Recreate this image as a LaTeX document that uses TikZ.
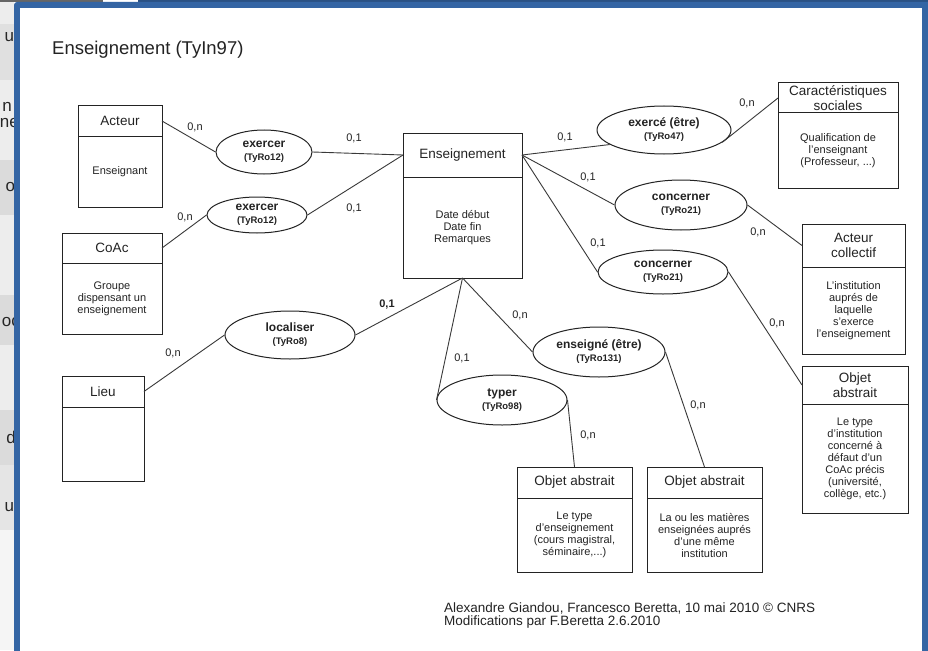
\documentclass[tikz,border=0pt]{standalone}
\usepackage{fontspec}
\setmainfont{Liberation Sans}
\usepackage{tikz}
\usetikzlibrary{shapes.geometric,positioning}
\definecolor{cadre}{RGB}{52,101,164}
\definecolor{encre}{RGB}{35,35,35}
\tikzstyle{box}=[rectangle, draw=encre, line width=1pt, inner sep=1pt, outer sep=0pt, align=center, text=encre, font=\fontsize{13.5}{15}\selectfont]
\tikzstyle{corps}=[box, font=\fontsize{11}{12}\selectfont]
\tikzstyle{rel}=[ellipse, draw=encre, line width=1pt, inner sep=0pt, align=center, text=encre, font=\bfseries\fontsize{12}{13}\selectfont]
\tikzstyle{card}=[inner sep=0pt, text=encre, font=\fontsize{11}{12}\selectfont]
\tikzstyle{lien}=[draw=encre!90, line width=0.9pt]
\tikzstyle{bande}=[inner sep=0pt, anchor=east, text=black!85, font=\fontsize{17}{17}\selectfont]
\newcommand{\code}[1]{{\fontsize{9.5}{10}\selectfont #1}}
% nom, x centre, haut, largeur, hauteur titre, hauteur corps, titre, corps
\newcommand{\entite}[8]
{
  \node[box, minimum width=#4pt, minimum height=#5pt, anchor=north](#1) at (#2,#3){#7};
  \node[corps, minimum width=#4pt, minimum height=#6pt, below=0pt of #1](#1-c){#8};
}

\begin{document}
\begin{tikzpicture}[x=1pt,y=-1pt]
	\useasboundingbox (0,0) rectangle (928,650);

	% fenetre
	\fill[black!60] (0,0) rectangle (103,2);
	\fill[white] (103,0) rectangle (138,2);
	\fill[cadre!80!black] (138,0) rectangle (928,2);
	\begin{scope}
		\clip (0,2) rectangle (14,650);
		\fill[black!7] (0,2) rectangle (14,650);
		\fill[black!12] (0,24) rectangle (14,80);
		\fill[black!14] (0,160) rectangle (14,215);
		\fill[black!14] (0,295) rectangle (14,345);
		\fill[black!14] (0,410) rectangle (14,465);
		\fill[black!10] (0,465) rectangle (14,530);
		\fill[black!4] (0,530) rectangle (14,650);
		\node[bande](g1) at (18,35){ul};
		\node[bande](g2) at (12,107){n};
		\node[bande](g3) at (19,123){ne};
		\node[bande](g4) at (19,185){oi};
		\node[bande](g5) at (20,322){oc};
		\node[bande](g6) at (16,437){d};
		\node[bande](g7) at (18,505){ul};
	\end{scope}
	\fill[cadre, rounded corners=3pt] (14,2) rectangle (935,670);
	\fill[white] (20,8) rectangle (922,670);

	\node[anchor=west, inner sep=0pt, text=encre, font=\fontsize{18.5}{20}\selectfont](titre) at (52,50){Enseignement (TyIn97)};

	\entite{acteur}{120}{106}{84}{30}{71}{Acteur}{Enseignant}
	\entite{coac}{112}{233}{100}{30}{71}{CoAc}{Groupe\\dispensant un\\enseignement}
	\entite{lieu}{103}{376}{82}{31}{74}{Lieu}{}
	\entite{ens}{462.5}{133}{119}{44}{101}{Enseignement}{Date d\'ebut\\Date fin\\Remarques}
	\entite{caract}{838}{83}{120}{30}{75}{Caract\'eristiques\\sociales}{Qualification de\\l'enseignant\\(Professeur, ...)}
	\entite{acoll}{853.5}{224}{103}{43}{87}{Acteur\\collectif}{L'institution\\aupr\'es de\\laquelle\\s'exerce\\l'enseignement}
	\entite{objR}{855}{366}{106}{38}{109}{Objet\\abstrait}{Le type\\d'institution\\concern\'e \`a\\d\'efaut d'un\\CoAc pr\'ecis\\(universit\'e,\\coll\`ege, etc.)}
	\entite{obj1}{574.5}{467}{115}{31}{74}{Objet abstrait}{Le type\\d'enseignement\\(cours magistral,\\s\'eminaire,...)}
	\entite{obj2}{704.5}{467}{115}{31}{74}{Objet abstrait}{La ou les mati\`eres\\enseign\'ees aupr\'es\\d'une m\^eme\\institution}

	\node[rel, minimum width=96pt, minimum height=44pt](exA) at (264,152){exercer\\\code{(TyRo12)}};
	\node[rel, minimum width=100pt, minimum height=36pt](exB) at (257,215){exercer\\\code{(TyRo12)}};
	\node[rel, minimum width=130pt, minimum height=48pt](loc) at (290,335){localiser\\\code{(TyRo8)}};
	\node[rel, minimum width=130pt, minimum height=50pt](typ) at (502,400){typer\\\code{(TyRo98)}};
	\node[rel, minimum width=132pt, minimum height=50pt](ensg) at (599,352){enseign\'e (\^etre)\\\code{(TyRo131)}};
	\node[rel, minimum width=134pt, minimum height=48pt](exe) at (664,130){exerc\'e (\^etre)\\\code{(TyRo47)}};
	\node[rel, minimum width=132pt, minimum height=50pt](conA) at (681,205){concerner\\\code{(TyRo21)}};
	\node[rel, minimum width=130pt, minimum height=44pt](conB) at (663,272){concerner\\\code{(TyRo21)}};

	\draw[lien] (acteur.east) -- (exA.west);
	\draw[lien] (exA.east) -- (ens.west);
	\draw[lien] (coac.east) -- (exB.west);
	\draw[lien] (exB.east) -- (ens.west);
	\draw[lien] (ens.east) -- (exe.195);
	\draw[lien] (exe.-12) -- (caract.west);
	\draw[lien] (ens.east) -- (conA.west);
	\draw[lien] (conA.east) -- (acoll.west);
	\draw[lien] (ens.east) -- (conB.west);
	\draw[lien] (conB.east) -- (objR.west);
	\draw[lien] (lieu.east) -- (loc.west);
	\draw[lien] (loc.east) -- (ens-c.south);
	\draw[lien] (ens-c.south) -- (typ.west);
	\draw[lien] (typ.east) -- (obj1.north);
	\draw[lien] (ens-c.south) -- (ensg.west);
	\draw[lien] (ensg.east) -- (obj2.north);

	\node[card](c1) at (195,127){0,n};
	\node[card](c2) at (354,138){0,1};
	\node[card](c3) at (185,217){0,n};
	\node[card](c4) at (354,208){0,1};
	\node[card](c5) at (565,137){0,1};
	\node[card](c6) at (747,103){0,n};
	\node[card](c7) at (588,177){0,1};
	\node[card](c8) at (758,232){0,n};
	\node[card](c9) at (598,243){0,1};
	\node[card](c10) at (777,323){0,n};
	\node[card, font=\bfseries\fontsize{11}{12}\selectfont](c11) at (387,305){0,1};
	\node[card](c12) at (173,353){0,n};
	\node[card](c13) at (462,358){0,1};
	\node[card](c14) at (588,435){0,n};
	\node[card](c15) at (520,315){0,n};
	\node[card](c16) at (698,405){0,n};

	\node[anchor=north west, align=left, inner sep=0pt, text=encre, font=\fontsize{13.5}{12.5}\selectfont](credit) at (444,603){Alexandre Giandou, Francesco Beretta, 10 mai 2010 \textcopyright{} CNRS\\Modifications par F.Beretta 2.6.2010};
\end{tikzpicture}
\end{document}
